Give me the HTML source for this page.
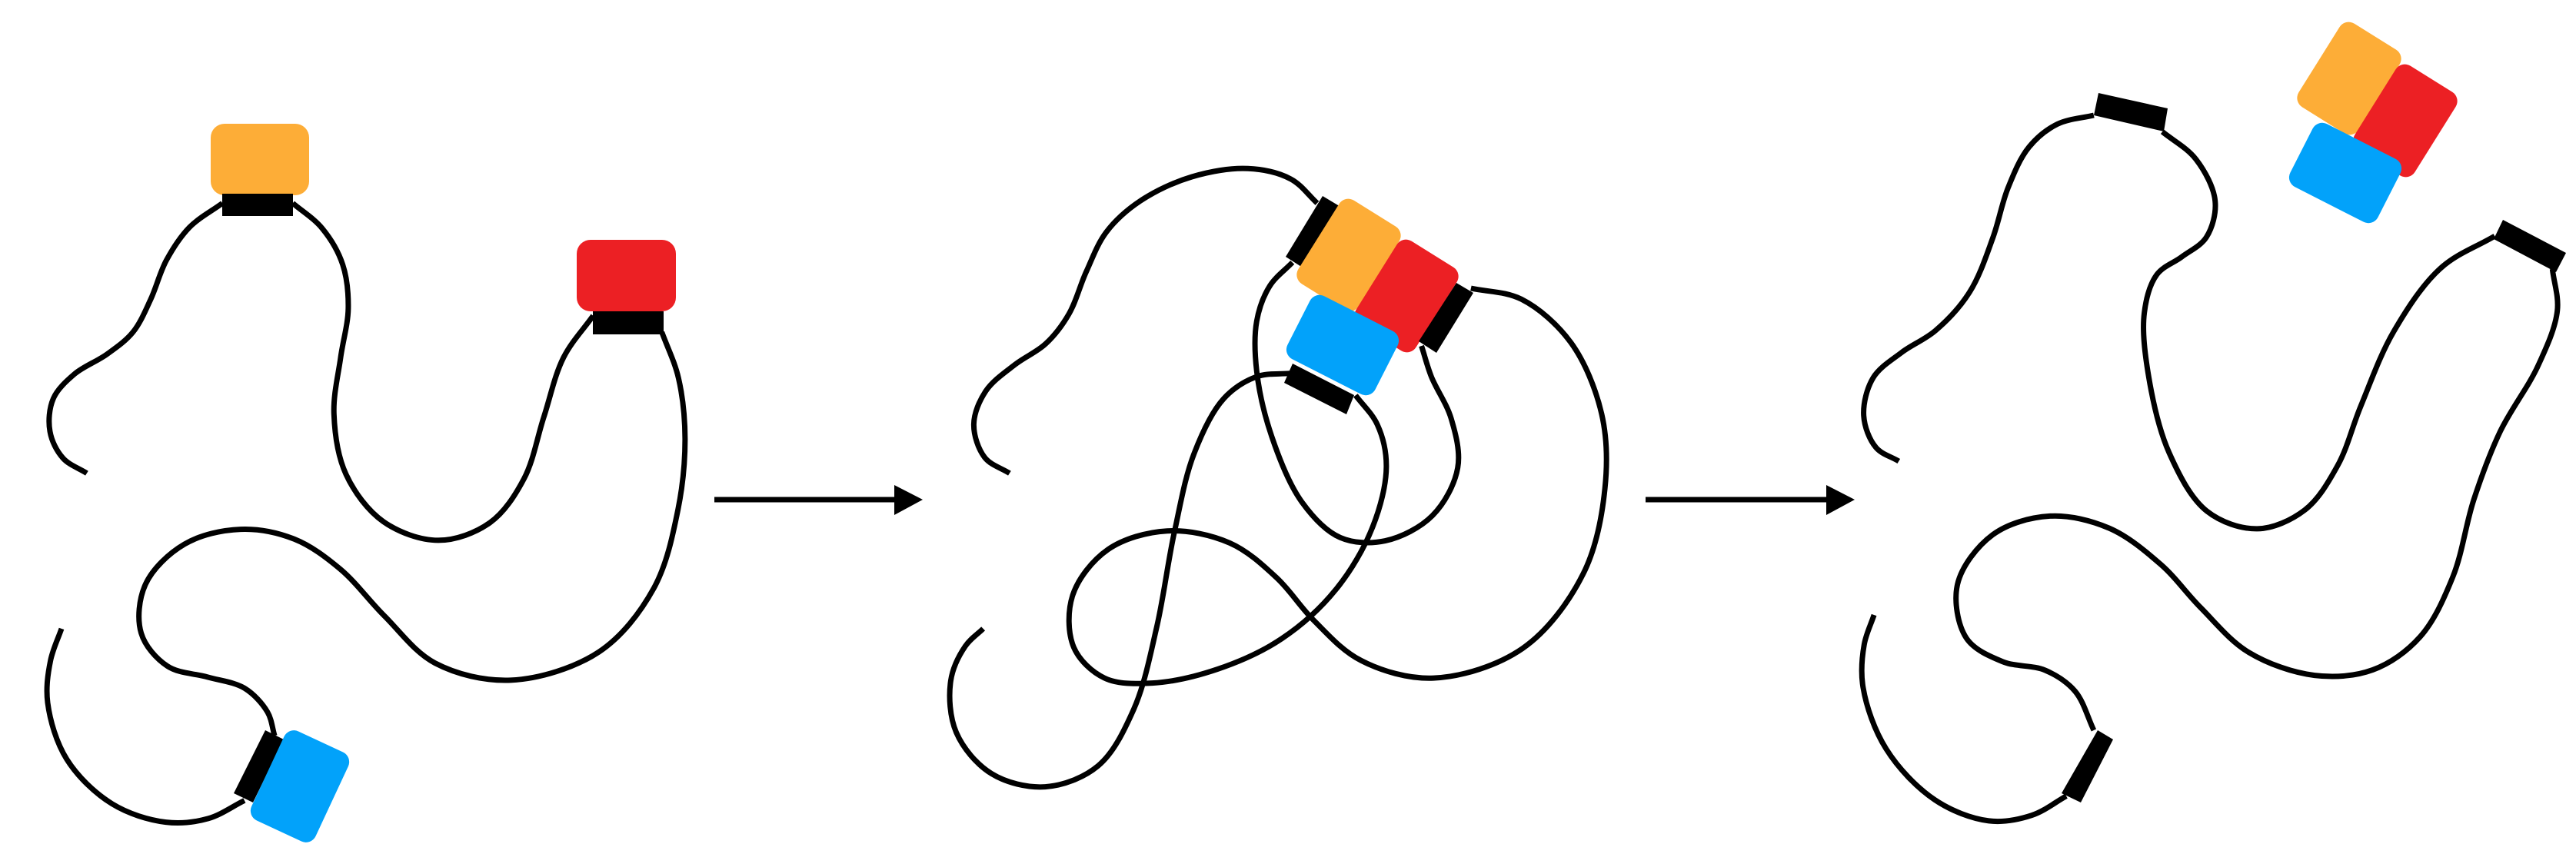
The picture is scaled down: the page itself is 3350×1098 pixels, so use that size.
<!DOCTYPE html>
<html><head><meta charset="utf-8"><style>html,body{margin:0;padding:0;background:#fff;width:3350px;height:1098px;overflow:hidden}</style></head>
<body>
<svg id="s" width="3350" height="1098" viewBox="0 0 3350 1098" xmlns="http://www.w3.org/2000/svg">
<g id="curves" fill="none" stroke="#000" stroke-width="7" stroke-linecap="butt"></g>
<g>
<rect x="274" y="161" width="128" height="93" rx="18" fill="#fdad37"/>
<rect x="289" y="252" width="92" height="29" fill="#000"/>
<rect x="750" y="312" width="129" height="93" rx="18" fill="#ec2024"/>
<rect x="771" y="405" width="92" height="30" fill="#000"/>
<polygon points="345,950 369,962 329,1044 304,1032" fill="#000"/>
<rect x="-46" y="-64" width="92" height="128" rx="14" fill="#02a2fa" transform="translate(390,1023) rotate(25)"/>
<line x1="929" y1="650" x2="1170" y2="650" stroke="#000" stroke-width="7"/>
<polygon points="1163,631 1200,650 1163,670" fill="#000"/>
<line x1="2140" y1="650" x2="2380" y2="650" stroke="#000" stroke-width="7"/>
<polygon points="2375,631 2412,650 2375,670" fill="#000"/>
<polygon points="1720,255 1745,270 1697,350 1672,334" fill="#000"/>
<rect x="-46" y="-64" width="92" height="128" rx="14" fill="#fdad37" transform="translate(1754,332) rotate(32)"/>
<rect x="-46" y="-64" width="92" height="128" rx="14" fill="#ec2024" transform="translate(1829,385) rotate(32)"/>
<polygon points="1894,368 1916,381 1868,459 1845,444" fill="#000"/>
<rect x="-64" y="-46" width="128" height="92" rx="14" fill="#02a2fa" transform="translate(1746,449) rotate(27)"/>
<polygon points="1681,473 1761,514 1751,539 1670,498" fill="#000"/>
<polygon points="2729,121 2819,141 2814,171 2723,150" fill="#000"/>
<polygon points="3255,286 3337,329 3324,354 3243,311" fill="#000"/>
<polygon points="2728,950 2748,962 2706,1044 2681,1032" fill="#000"/>
<rect x="-46" y="-64" width="92" height="128" rx="14" fill="#fdad37" transform="translate(3055,102) rotate(32)"/>
<rect x="-46" y="-64" width="92" height="128" rx="14" fill="#ec2024" transform="translate(3128,157) rotate(32)"/>
<rect x="-64" y="-46" width="128" height="92" rx="14" fill="#02a2fa" transform="translate(3050,225) rotate(27)"/>
</g>
</svg>
<script>
var S=[
[0,[[158,862],[110,840],[85,790],[90,720],[130,680],[200,645],[245,610],[275,550],[300,470],[340,410],[405,370]]],
[0,[[533,370],[590,410],[630,480],[640,560],[620,650],[600,750],[620,870],[690,960],[800,1000],[900,960],[960,880],[990,760],[1020,640],[1080,575]]],
[0,[[1205,605],[1240,680],[1252,800],[1240,920],[1200,1080],[1110,1200],[920,1258],[780,1220],[700,1120],[620,1030],[540,975],[440,955],[330,980],[250,1060],[245,1160],[300,1225],[380,1232],[450,1245],[495,1300],[500,1340]]],
[0,[[445,1458],[380,1497],[310,1505],[200,1475],[110,1390],[78,1270],[90,1200],[112,1145]]],
[1120,[[270,862],[220,845],[195,770],[220,710],[280,660],[340,630],[380,580],[410,490],[440,420],[500,365],[600,315],[710,300],[790,320],[830,370]]],
[1120,[[785,478],[740,515],[715,580],[715,670],[740,790],[800,930],[870,990],[950,995],[1050,950],[1100,850],[1080,760],[1030,680],[1020,630]]],
[1120,[[1110,525],[1200,530],[1300,610],[1360,760],[1360,880],[1330,1050],[1220,1200],[1030,1255],[900,1210],[820,1130],[760,1050],[680,980],[555,955],[440,990],[370,1080],[375,1190],[440,1245],[520,1250],[650,1225],[770,1170],[870,1080],[940,960],[965,840],[945,770],[900,720]]],
[1120,[[780,680],[720,680],[660,710],[600,820],[570,960],[540,1150],[500,1300],[440,1410],[335,1445],[230,1420],[160,1340],[155,1230],[190,1170],[222,1145]]],
[2230,[[335,840],[290,825],[262,760],[280,680],[340,640],[400,610],[470,540],[510,430],[530,340],[570,260],[620,220],[690,210]]],
[2230,[[815,240],[880,280],[925,370],[900,440],[850,470],[800,490],[775,560],[785,680],[820,830],[890,950],[990,975],[1080,940],[1140,850],[1170,750],[1230,600],[1320,470],[1420,430]]],
[2230,[[1525,490],[1545,560],[1510,660],[1420,790],[1380,900],[1350,1060],[1290,1170],[1200,1230],[1100,1240],[960,1200],[880,1100],[820,1030],[720,950],[610,930],[500,960],[420,1060],[450,1180],[520,1210],[610,1215],[660,1250],[690,1330]]],
[2230,[[640,1450],[580,1490],[505,1505],[400,1470],[300,1370],[260,1240],[270,1170],[290,1120]]]
];
var g=document.getElementById('curves'),NS='http://www.w3.org/2000/svg';
function f(n){return Math.round(n*10)/10;}
function dist(a,b){return Math.pow(Math.hypot(b[0]-a[0],b[1]-a[1])||1e-6,0.5);}
S.forEach(function(s){
 var off=s[0],p=s[1].map(function(q){return [q[0]/1.4+off,q[1]/1.4];});
 // mild smoothing
 var q=p.map(function(v,i){if(i==0||i==p.length-1)return v;return [0.2*p[i-1][0]+0.6*v[0]+0.2*p[i+1][0],0.2*p[i-1][1]+0.6*v[1]+0.2*p[i+1][1]];});
 p=q;
 var d='M'+f(p[0][0])+','+f(p[0][1]);
 for(var i=0;i<p.length-1;i++){
  var p1=p[i],p2=p[i+1];
  var p0=p[i-1]||[2*p1[0]-p2[0],2*p1[1]-p2[1]];
  var p3=p[i+2]||[2*p2[0]-p1[0],2*p2[1]-p1[1]];
  var d1=dist(p0,p1),d2=dist(p1,p2),d3=dist(p2,p3);
  var c1=[0,0],c2=[0,0];
  for(var k=0;k<2;k++){
   c1[k]=(d1*d1*p2[k]-d2*d2*p0[k]+(2*d1*d1+3*d1*d2+d2*d2)*p1[k])/(3*d1*(d1+d2));
   c2[k]=(d3*d3*p1[k]-d2*d2*p3[k]+(2*d3*d3+3*d3*d2+d2*d2)*p2[k])/(3*d3*(d3+d2));
  }
  d+=' C'+f(c1[0])+','+f(c1[1])+' '+f(c2[0])+','+f(c2[1])+' '+f(p2[0])+','+f(p2[1]);
 }
 var e=document.createElementNS(NS,'path');e.setAttribute('d',d);g.appendChild(e);
});
</script>
</body></html>
